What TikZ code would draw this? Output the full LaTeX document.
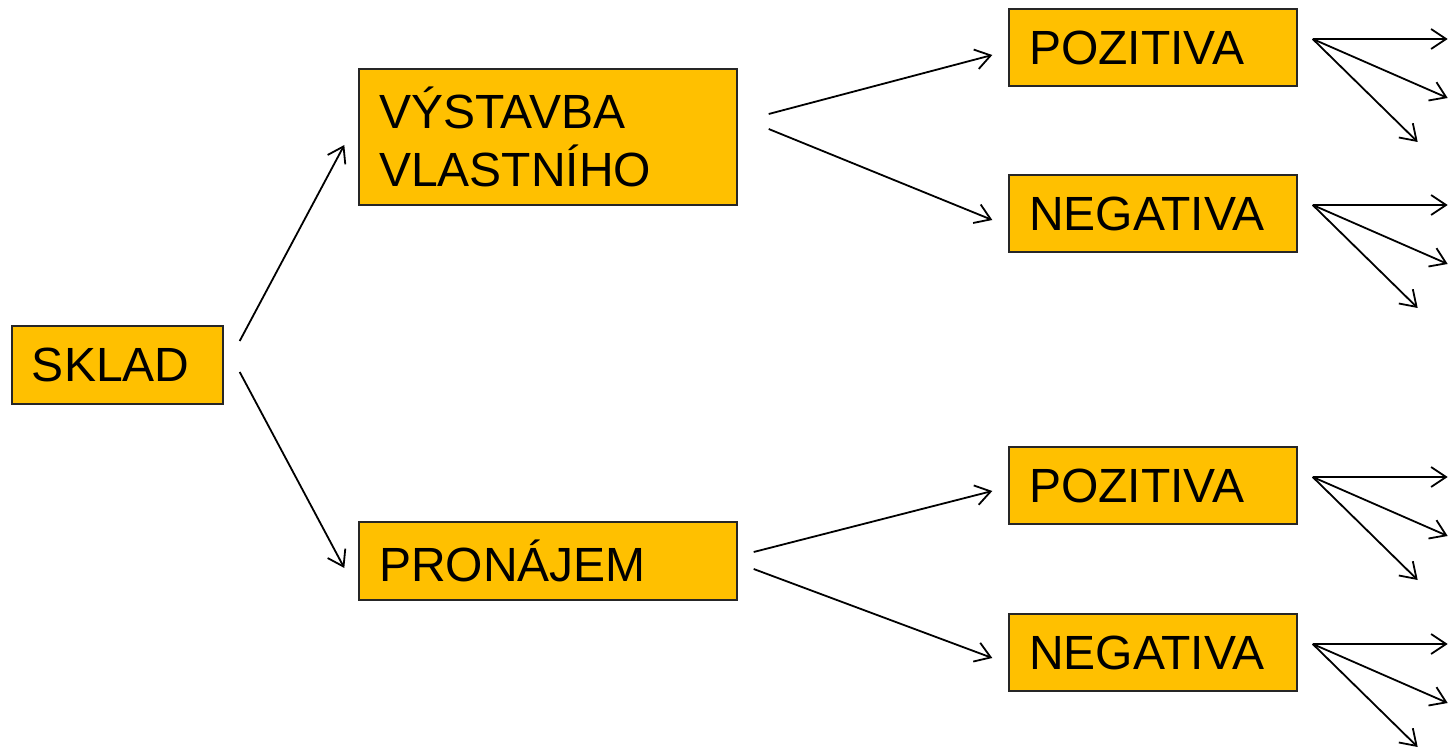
\documentclass[tikz,border=0pt]{standalone}
\usepackage{fontspec}
\setmainfont{Liberation Sans}
\usetikzlibrary{arrows.meta,calc}
\definecolor{boxfill}{HTML}{FFC000}
\tikzset{
  box/.style={draw=black!85, line width=0.7pt, fill=boxfill, inner xsep=10pt, inner ysep=0pt,
    align=left, font=\fontsize{24}{29}\selectfont, anchor=center},
  conn/.style={line width=0.9pt, -{Straight Barb[length=7.5pt,width=10pt,line width=0.9pt]}},
}
\begin{document}
\begin{tikzpicture}[x=0.5pt,y=-0.5pt]
\useasboundingbox (0,0) rectangle (1448,749);
\node[box, minimum width=105.5pt, minimum height=39pt, text width=85.5pt] (sklad) at (117.5,365) {SKLAD};
\node[box, minimum width=189pt, minimum height=68pt, text width=169pt] (vys) at (548,137) {VÝSTAVBA\\VLASTNÍHO};
\node[box, minimum width=189pt, minimum height=39pt, text width=169pt] (pro) at (548,561) {PRONÁJEM};
\node[box, minimum width=144pt, minimum height=38.5pt, text width=124pt] (poz1) at (1153,47.5) {POZITIVA};
\node[box, minimum width=144pt, minimum height=38.5pt, text width=124pt] (neg1) at (1153,213.5) {NEGATIVA};
\node[box, minimum width=144pt, minimum height=38.5pt, text width=124pt] (poz2) at (1153,485.5) {POZITIVA};
\node[box, minimum width=144pt, minimum height=38.5pt, text width=124pt] (neg2) at (1153,652.5) {NEGATIVA};

\draw[conn] ($(sklad.east)+(16,-24)$) -- ($(vys.west)+(-14,8)$);
\draw[conn] ($(sklad.east)+(16,7)$) -- ($(pro.west)+(-14,7)$);
\draw[conn] ($(vys.east)+(31,-23)$) -- ($(poz1.west)+(-16,7.5)$);
\draw[conn] ($(vys.east)+(31,-8)$) -- ($(neg1.west)+(-16,6.5)$);
\draw[conn] ($(pro.east)+(16,-9)$) -- ($(poz2.west)+(-16,5.5)$);
\draw[conn] ($(pro.east)+(16,8)$) -- ($(neg2.west)+(-16,5.5)$);

\foreach \n in {poz1,neg1,poz2,neg2}{
  \coordinate (\n s) at ($(\n.east)+(15,-8.5)$);
  \coordinate (\n a) at ($(\n s)+(135,0)$);
  \coordinate (\n b) at ($(\n s)+(135,59)$);
  \coordinate (\n c) at ($(\n s)+(105,103)$);
  \draw[conn] (\n s) -- (\n a);
  \draw[conn] (\n s) -- (\n b);
  \draw[conn] (\n s) -- (\n c);
}
\end{tikzpicture}
\end{document}
